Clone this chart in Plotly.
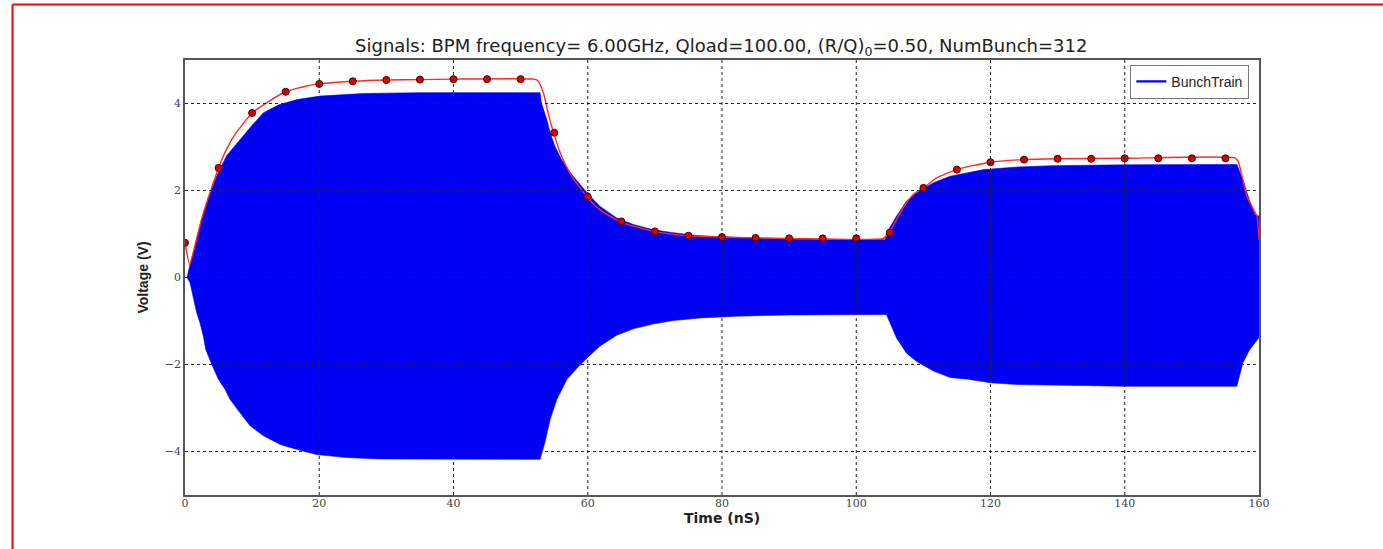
import plotly.graph_objects as go

# Upper and lower extent of the bunch-train signal (ns, V)
upper_t = [0.3, 0.75, 1.5, 2.0, 2.5, 3.5, 3.95, 4.7, 6.2, 8.2,
           10.0, 11.7, 14.0, 16.7, 20.1, 26.6, 35.0, 52.9, 53.1, 53.9,
           54.4, 55.1, 56.1, 57.4, 58.8, 60.1, 61.8, 64.3, 66.8, 69.7,
           72.7, 76.7, 82.0, 90.0, 104.3, 104.5, 106.0, 107.5, 109.0, 111.5,
           114.0, 119.0, 124.0, 129.0, 140.0, 156.7, 157.6, 158.6, 159.4, 160.0]
upper_v = [0.0, 0.30, 0.72, 1.07, 1.37, 1.83, 2.02, 2.33, 2.80, 3.17,
           3.50, 3.79, 3.97, 4.09, 4.17, 4.23, 4.25, 4.25, 4.01, 3.63,
           3.33, 3.02, 2.71, 2.41, 2.14, 1.91, 1.64, 1.37, 1.22, 1.10,
           1.03, 0.96, 0.92, 0.88, 0.87, 1.02, 1.41, 1.76, 1.95, 2.18,
           2.33, 2.48, 2.54, 2.57, 2.59, 2.60, 2.25, 1.76, 1.45, 1.41]

lower_t = [0.3, 0.75, 1.24, 1.74, 2.23, 2.73, 3.1, 4.0, 4.97, 5.96,
           6.7, 8.2, 9.7, 11.7, 14.2, 16.6, 19.6, 24.1, 29.1, 52.9,
           53.6, 54.4, 55.4, 56.9, 58.8, 60.1, 61.8, 64.3, 66.8, 69.7,
           72.7, 76.7, 82.0, 90.0, 104.5, 106.0, 107.5, 109.0, 111.5, 114.0,
           116.7, 120.0, 124.0, 129.0, 140.0, 156.7, 157.6, 158.6, 160.0]
lower_v = [0.0, -0.12, -0.43, -0.81, -1.04, -1.35, -1.66, -2.0, -2.34, -2.57,
           -2.8, -3.11, -3.41, -3.64, -3.84, -3.95, -4.07, -4.14, -4.17, -4.18,
           -3.8, -3.26, -2.8, -2.34, -2.02, -1.82, -1.58, -1.33, -1.18, -1.07,
           -0.99, -0.93, -0.89, -0.86, -0.85, -1.39, -1.74, -1.93, -2.15, -2.3,
           -2.34, -2.42, -2.46, -2.48, -2.5, -2.5, -1.96, -1.66, -1.38]

# Envelope curve (red line)
env_t = [0, 0.7, 1.5, 2.5, 3.5, 5, 6.2, 7.5, 10, 12.5,
         15, 17.5, 20, 25, 30, 35, 40, 52.0, 52.6, 53.4,
         54.1, 54.9, 56.1, 57.6, 59.8, 61.8, 64.8, 69.8, 75, 80,
         85, 90, 104.0, 104.9, 106.0, 107.3, 108.5, 110.0, 112.0, 114.9,
         119.9, 124.9, 130, 140, 156.4, 156.9, 158.2, 159.2, 159.7, 160]
env_v = [0.8, 0.3, 0.75, 1.35, 1.85, 2.52, 2.95, 3.3, 3.78, 4.05,
         4.27, 4.38, 4.45, 4.51, 4.54, 4.55, 4.56, 4.56, 4.52, 4.24,
         3.78, 3.33, 2.79, 2.33, 1.87, 1.56, 1.28, 1.06, 0.96, 0.93,
         0.91, 0.90, 0.90, 1.03, 1.33, 1.68, 1.91, 2.06, 2.29, 2.48,
         2.65, 2.71, 2.73, 2.74, 2.75, 2.67, 1.87, 1.56, 1.41, 0.87]

# Sampled envelope points every 5 ns
sample_t = [0, 5, 10, 15, 20, 25, 30, 35, 40, 45, 50, 55, 60, 65, 70, 75,
            80, 85, 90, 95, 100, 105, 110, 115, 120, 125, 130, 135, 140, 145, 150, 155]
sample_v = [0.8, 2.52, 3.78, 4.27, 4.45, 4.51, 4.54, 4.55, 4.56, 4.56, 4.56, 3.33,
            1.86, 1.29, 1.06, 0.96, 0.93, 0.91, 0.9, 0.9, 0.9, 1.03, 2.06, 2.48,
            2.65, 2.71, 2.73, 2.73, 2.74, 2.74, 2.74, 2.74]

x_ticks = [0, 20, 40, 60, 80, 100, 120, 140, 160]
y_ticks = [-4, -2, 0, 2, 4]

BLUE = "rgb(0,0,245)"

fig = go.Figure()

# Bunch-train signal band
fig.add_trace(go.Scatter(
    x=upper_t + lower_t[::-1],
    y=upper_v + lower_v[::-1],
    mode="lines", fill="toself", fillcolor=BLUE,
    line=dict(color=BLUE, width=0.6),
    showlegend=False, hoverinfo="skip",
))
# Legend entry for the signal
fig.add_trace(go.Scatter(
    x=[None], y=[None], mode="lines",
    line=dict(color=BLUE, width=2.2), name="BunchTrain",
))
# Envelope
fig.add_trace(go.Scatter(
    x=env_t, y=env_v, mode="lines",
    line=dict(color="rgb(255,40,40)", width=1.4, shape="spline", smoothing=0.5),
    showlegend=False,
))
fig.add_trace(go.Scatter(
    x=sample_t, y=sample_v, mode="markers",
    marker=dict(color="rgb(220,0,0)", size=7,
                line=dict(color="rgb(60,0,0)", width=1)),
    showlegend=False,
))

# Dotted grid drawn above the data
shapes = []
for xv in x_ticks[1:-1]:
    shapes.append(dict(type="line", xref="x", yref="paper", x0=xv, x1=xv, y0=0, y1=1,
                       line=dict(color="#222", width=1, dash="dot"), layer="above"))
for yv in y_ticks:
    shapes.append(dict(type="line", xref="paper", yref="y", x0=0, x1=1, y0=yv, y1=yv,
                       line=dict(color="#222", width=1, dash="dot"), layer="above"))
# Red page frame (top and left edges)
shapes.append(dict(type="line", xref="paper", yref="paper", x0=-0.1606, x1=1.12,
                   y0=1.1276, y1=1.1276, line=dict(color="red", width=2)))
shapes.append(dict(type="line", xref="paper", yref="paper", x0=-0.1606, x1=-0.1606,
                   y0=1.1276, y1=-0.13, line=dict(color="red", width=2)))

tick_font = dict(family="DejaVu Serif", size=11, color="#444")
fig.update_layout(
    width=1383, height=549,
    margin=dict(l=185, r=124, t=60, b=54),
    paper_bgcolor="white", plot_bgcolor="white",
    title=dict(
        text="Signals: BPM frequency= 6.00GHz, Qload=100.00, (R/Q)<sub>0</sub>=0.50, NumBunch=312",
        x=0.5215, xanchor="center", y=1 - 46 / 549, yanchor="middle",
        font=dict(family="DejaVu Sans", size=18, color="#222"),
    ),
    xaxis=dict(range=[0, 160], tickvals=x_ticks, ticks="", showgrid=False, zeroline=False,
               showline=True, linecolor="#555", linewidth=1.5, mirror=True,
               tickfont=tick_font, ticklabelstandoff=-3),
    yaxis=dict(range=[-5, 5], tickvals=y_ticks, ticks="", showgrid=False, zeroline=False,
               showline=True, linecolor="#555", linewidth=1.5, mirror=True,
               tickfont=tick_font),
    legend=dict(x=0.991, y=0.989, xanchor="right", yanchor="top",
                bgcolor="rgba(255,255,255,0)", bordercolor="#777", borderwidth=1,
                font=dict(family="Liberation Sans", size=14, color="#222"),
                itemwidth=30, tracegroupgap=0),
    shapes=shapes,
    annotations=[
        dict(text="Time (nS)", xref="paper", yref="paper", x=0.5, y=(495 - 518) / 435,
             xanchor="center", yanchor="middle", showarrow=False,
             font=dict(family="DejaVu Sans", size=14, color="#222", weight="bold")),
        dict(text="Voltage (V)", xref="paper", yref="paper", x=-0.040, y=0.5,
             xanchor="center", yanchor="middle", showarrow=False, textangle=-90,
             font=dict(family="Liberation Sans", size=14, color="#222", weight="bold")),
    ],
)

fig.write_html("out.html")
